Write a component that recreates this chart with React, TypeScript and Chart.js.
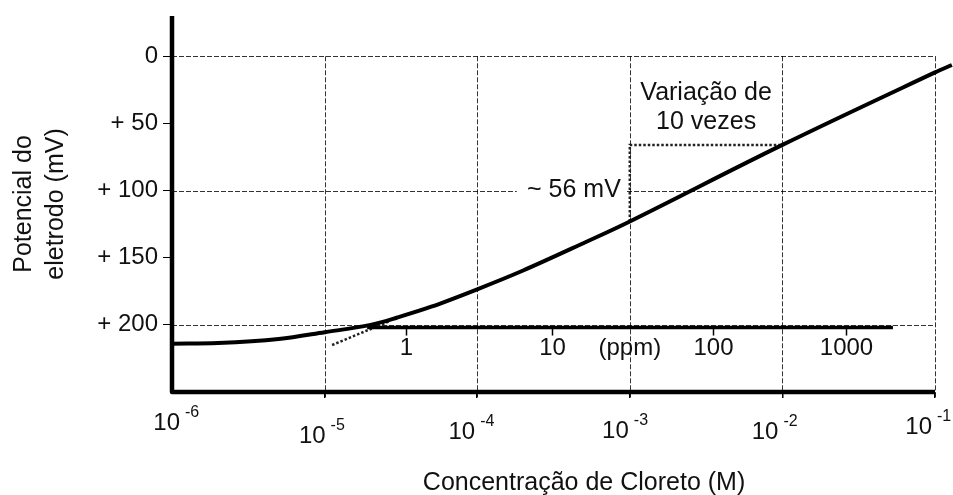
import React, { useEffect, useRef } from 'react';
import { Chart, registerables } from 'chart.js';

Chart.register(...registerables);

// ---- data ----
const concentration = [1e-6, 2e-6, 5e-6, 1e-5, 2e-5, 3e-5, 5e-5, 1e-4, 2e-4, 5e-4, 1e-3, 1e-2, 1e-1, 1.29e-1];
const potential = [214, 213.5, 210.5, 205.5, 200, 194.5, 186.5, 173.5, 159.5, 139, 123, 66, 12, 6.5];

const extrapolationX = [1.12e-5, 2.7e-5];
const extrapolationY = [215, 197];

const tenfoldX = [1e-3, 1e-3, 1e-2];
const tenfoldY = [123, 66, 66];

const ppmLineX = [1.9e-5, 5.3e-2];
const ppmLineY = [202, 202];
const ppmTickX = [3.4e-5, 3.1e-4, 3.5e-3, 2.6e-2];
const ppmTickLabels = ['1', '10', '100', '1000'];
const ppmUnitX = 1e-3;
const ppmUnitLabel = '(ppm)';

const decades = [1e-6, 1e-5, 1e-4, 1e-3, 1e-2, 1e-1];
const decadeExponents = ['-6', '-5', '-4', '-3', '-2', '-1'];

const yTickValues = [0, 50, 100, 150, 200];
const yTickLabels = ['0', '+ 50', '+ 100', '+ 150', '+ 200'];
const yGridValues = [0, 100, 200];

const slopeLabel = '~ 56 mV';
const tenfoldLabel = ['Variação de', '10 vezes'];
const xTitle = 'Concentração de Cloreto (M)';
const yTitle = ['Potencial do', 'eletrodo (mV)'];

// ---- styles ----
const FONT = '"Liberation Sans", Arial, sans-serif';
const INK = '#111';
const labelDy = [31, 44, 40, 39, 40, 35];
const labelDx = [8, 1, -2, -1, -4, -3];

const decor = {
  id: 'decor',
  beforeDatasetsDraw(chart: any) {
    const { ctx, chartArea: a, scales } = chart;
    const x = scales.x;
    const y = scales.y;
    ctx.save();
    ctx.strokeStyle = 'rgba(0,0,0,0.8)';
    ctx.lineWidth = 1;
    ctx.setLineDash([5, 2]);
    const right = Math.round(x.getPixelForValue(decades[decades.length - 1])) + 0.5;
    for (const v of yGridValues) {
      const py = Math.round(y.getPixelForValue(v)) + 0.5;
      ctx.beginPath();
      ctx.moveTo(a.left, py);
      ctx.lineTo(right, py);
      ctx.stroke();
    }
    const top = y.getPixelForValue(0);
    for (let i = 1; i < decades.length; i++) {
      const px = Math.round(x.getPixelForValue(decades[i])) + 0.5;
      ctx.beginPath();
      ctx.moveTo(px, top);
      ctx.lineTo(px, a.bottom + 5);
      ctx.stroke();
    }
    ctx.setLineDash([]);
    // slope label with white background
    const lx = x.getPixelForValue(tenfoldX[0]);
    const ly = y.getPixelForValue(100);
    ctx.fillStyle = '#fff';
    ctx.fillRect(lx - 113, ly - 12, 110, 22);
    ctx.fillStyle = INK;
    ctx.font = `25px ${FONT}`;
    ctx.textAlign = 'right';
    ctx.textBaseline = 'middle';
    ctx.fillText(slopeLabel, lx - 9, ly);
    ctx.restore();
  },
  afterDatasetsDraw(chart: any) {
    const { ctx, chartArea: a, scales } = chart;
    const x = scales.x;
    const y = scales.y;
    ctx.save();
    // axes
    ctx.strokeStyle = '#000';
    ctx.lineWidth = 4.5;
    ctx.lineJoin = 'round';
    ctx.beginPath();
    ctx.moveTo(a.left, a.top);
    ctx.lineTo(a.left, a.bottom);
    ctx.lineTo(x.getPixelForValue(decades[decades.length - 1]), a.bottom);
    ctx.stroke();

    // ppm ticks and labels
    const py = y.getPixelForValue(ppmLineY[0]);
    ctx.lineWidth = 1.5;
    ctx.fillStyle = INK;
    ctx.font = `24px ${FONT}`;
    ctx.textAlign = 'center';
    ctx.textBaseline = 'middle';
    ppmTickX.forEach((v, i) => {
      const px = Math.round(x.getPixelForValue(v)) + 0.5;
      ctx.beginPath();
      ctx.moveTo(px, py);
      ctx.lineTo(px, py + 8);
      ctx.stroke();
      ctx.fillText(ppmTickLabels[i], px, py + 21);
    });
    ctx.fillText(ppmUnitLabel, x.getPixelForValue(ppmUnitX), py + 21);

    // x decade labels with superscripts
    decades.forEach((d, i) => {
      const px = x.getPixelForValue(d) + labelDx[i];
      const cy = a.bottom + labelDy[i];
      ctx.font = `24px ${FONT}`;
      ctx.textAlign = 'right';
      ctx.fillText('10', px, cy);
      ctx.font = `16px ${FONT}`;
      ctx.textAlign = 'left';
      ctx.fillText(decadeExponents[i], px + 5, cy - 10);
    });

    // x title
    ctx.font = `25px ${FONT}`;
    ctx.textAlign = 'center';
    ctx.textBaseline = 'alphabetic';
    ctx.fillText(xTitle, a.left + 0.54 * (a.right - a.left), a.bottom + 98);

    // tenfold label
    const cx = (x.getPixelForValue(tenfoldX[1]) + x.getPixelForValue(tenfoldX[2])) / 2;
    const ty = y.getPixelForValue(tenfoldY[2]);
    ctx.textBaseline = 'middle';
    ctx.font = `25px ${FONT}`;
    ctx.fillText(tenfoldLabel[0], cx, ty - 52);
    ctx.fillText(tenfoldLabel[1], cx, ty - 23);
    ctx.restore();
  },
};

export default function App() {
  const ref = useRef<HTMLCanvasElement>(null);
  useEffect(() => {
    if (!ref.current) return;
    const pts = (xs: number[], ys: number[]) => xs.map((v, i) => ({ x: v, y: ys[i] }));
    const chart = new Chart(ref.current, {
      type: 'line',
      data: {
        datasets: [
          {
            data: pts(concentration, potential),
            borderColor: '#000',
            borderWidth: 4,
            pointRadius: 0,
            tension: 0.35,
            clip: false,
          } as any,
          {
            data: pts(ppmLineX, ppmLineY),
            borderColor: '#000',
            borderWidth: 3.5,
            pointRadius: 0,
          },
          {
            data: pts(tenfoldX, tenfoldY),
            borderColor: '#222',
            borderWidth: 2.5,
            borderDash: [2.5, 2],
            pointRadius: 0,
          },
          {
            data: pts(extrapolationX, extrapolationY),
            borderColor: '#222',
            borderWidth: 2.5,
            borderDash: [2.5, 2],
            pointRadius: 0,
          },
        ],
      },
      options: {
        animation: false,
        responsive: true,
        maintainAspectRatio: false,
        layout: { padding: { top: 8, right: 18, left: 0, bottom: 0 } },
        plugins: { legend: { display: false }, tooltip: { enabled: false } },
        scales: {
          x: {
            type: 'logarithmic',
            min: decades[0],
            afterDataLimits: (s: any) => {
              s.min = decades[0];
              s.max = decades[decades.length - 1];
            },
            afterBuildTicks: (s: any) => {
              s.ticks = decades.map((v) => ({ value: v }));
            },
            afterFit: (s: any) => {
              s.height = 103;
              s.paddingLeft = 0;
              s.paddingRight = 0;
            },
            ticks: { display: false },
            border: { display: false },
            grid: {
              drawOnChartArea: false,
              drawTicks: true,
              tickLength: 6,
              tickColor: (c: any) => (c.index === 0 ? 'rgba(0,0,0,0)' : '#000'),
              lineWidth: 1.5,
            },
          },
          y: {
            type: 'linear',
            reverse: true,
            min: -30,
            max: 250,
            afterBuildTicks: (s: any) => {
              s.ticks = yTickValues.map((v) => ({ value: v }));
            },
            afterFit: (s: any) => {
              s.width = 164;
              s.paddingTop = 0;
              s.paddingBottom = 0;
            },
            ticks: {
              color: INK,
              padding: 5,
              font: { family: FONT, size: 24 },
              callback: (v: any) => {
                const i = yTickValues.indexOf(Number(v));
                return i >= 0 ? yTickLabels[i] : '';
              },
            },
            border: { display: false },
            grid: {
              drawOnChartArea: false,
              drawTicks: true,
              tickLength: 9,
              tickColor: '#000',
              lineWidth: 1,
            },
            title: {
              display: true,
              text: yTitle,
              color: INK,
              font: { family: FONT, size: 25, lineHeight: 1.28 },
              padding: { top: 0, bottom: 0 },
            },
          },
        },
      },
      plugins: [decor],
    } as any);
    return () => chart.destroy();
  }, []);
  return (
    <div style={{ position: 'absolute', left: 8, top: 8, width: 945, height: 487 }}>
      <canvas ref={ref} />
    </div>
  );
}
